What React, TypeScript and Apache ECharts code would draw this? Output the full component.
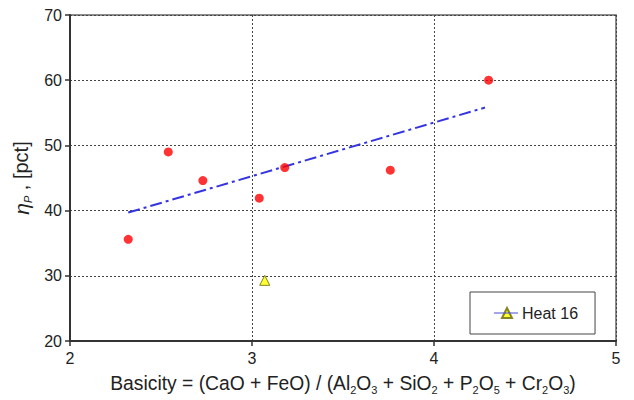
import React, { useEffect, useRef } from "react";
import * as echarts from "echarts";

const basicity = [2.32, 2.54, 2.73, 3.04, 3.18, 3.76, 4.3];
const etaP = [35.6, 49.0, 44.6, 41.9, 46.6, 46.2, 60.0];
const heat16X = [3.07];
const heat16Y = [29.3];
const trendX = [2.32, 4.28];
const trendY = [39.7, 55.8];
const xTicks = [2, 3, 4, 5];
const yTicks = [20, 30, 40, 50, 60, 70];

const FONT = "Liberation Sans, Arial, Helvetica, sans-serif";

export default function App() {
  const ref = useRef<HTMLDivElement>(null);
  useEffect(() => {
    if (!ref.current) return;
    const chart = echarts.init(ref.current, undefined, { renderer: "svg" });
    const gridLine = { show: true, lineStyle: { color: "#444", type: [2, 2] as any, width: 1 } };
    chart.setOption({
      animation: false,
      backgroundColor: "#fff",
      textStyle: { fontFamily: FONT },
      grid: {
        left: 70,
        right: 18,
        top: 15,
        bottom: 57,
        show: true,
        borderColor: "#666",
        borderWidth: 1.5,
        backgroundColor: "transparent",
      },
      xAxis: {
        type: "value",
        min: xTicks[0],
        max: xTicks[xTicks.length - 1],
        interval: 1,
        axisLine: { show: true, onZero: false, lineStyle: { color: "#333", width: 2 } },
        axisTick: { show: true, length: 5, lineStyle: { color: "#333", width: 1.5 } },
        axisLabel: { color: "#222", fontSize: 16, margin: 9, fontFamily: FONT },
        splitLine: gridLine,
        name:
          "Basicity = (CaO + FeO) / (Al{s|2}O{s|3} + SiO{s|2} + P{s|2}O{s|5} + Cr{s|2}O{s|3})",
        nameLocation: "middle",
        nameGap: 30,
        nameTextStyle: {
          color: "#222",
          fontSize: 19.3,
          fontFamily: FONT,
          lineHeight: 24,
          verticalAlign: "top",
          rich: {
            s: { fontSize: 11, lineHeight: 11, verticalAlign: "bottom", color: "#222", fontFamily: FONT },
          },
        },
      },
      yAxis: {
        type: "value",
        min: yTicks[0],
        max: yTicks[yTicks.length - 1],
        interval: 10,
        axisLine: { show: true, onZero: false, lineStyle: { color: "#333", width: 2 } },
        axisTick: { show: true, length: 5, lineStyle: { color: "#333", width: 1.5 } },
        axisLabel: { color: "#222", fontSize: 16, margin: 8, fontFamily: FONT },
        splitLine: gridLine,
        name: "{i|η}{s|P}{n| , [pct]}",
        nameLocation: "middle",
        nameGap: 27,
        nameRotate: 90,
        nameTextStyle: {
          color: "#222",
          fontSize: 19,
          fontFamily: FONT,
          rich: {
            i: { fontStyle: "italic", fontSize: 21, lineHeight: 24, color: "#222", fontFamily: FONT },
            s: { fontStyle: "italic", fontSize: 11, lineHeight: 11, verticalAlign: "bottom", color: "#222", fontFamily: FONT },
            n: { fontSize: 20, lineHeight: 24, color: "#222", fontFamily: FONT },
          },
        },
      },
      legend: {
        data: ["Heat 16"],
        left: 470,
        top: 292,
        orient: "vertical",
        padding: [13, 17, 13, 31],
        itemWidth: 10,
        itemHeight: 10,
        borderColor: "#444",
        borderWidth: 1,
        backgroundColor: "#fff",
        textStyle: { color: "#222", fontSize: 16, fontFamily: FONT, padding: [0, 0, 0, 5] },
      },
      graphic: [
        {
          type: "line",
          shape: { x1: 494, y1: 313, x2: 518, y2: 313 },
          style: { stroke: "#4a4ad8", lineWidth: 1 },
          z: 100,
          zlevel: 0,
        },
      ],
      series: [
        {
          name: "trend",
          type: "line",
          data: trendX.map((x, i) => [x, trendY[i]]),
          symbol: "none",
          lineStyle: { color: "#3535e0", width: 2, type: [12, 4, 3, 4] as any },
          z: 3,
        },
        {
          name: "points",
          type: "scatter",
          data: basicity.map((x, i) => [x, etaP[i]]),
          symbol: "circle",
          symbolSize: 9,
          itemStyle: { color: "#ff0000" },
          z: 4,
        },
        {
          name: "Heat 16",
          type: "scatter",
          data: heat16X.map((x, i) => [x, heat16Y[i]]),
          symbol: "triangle",
          symbolSize: 10,
          itemStyle: { color: "#ffff00", borderColor: "#666600", borderWidth: 1 },
          z: 4,
        },
      ],
    });
    return () => chart.dispose();
  }, []);
  return <div ref={ref} style={{ width: 634, height: 400, position: "absolute", left: 0, top: 0 }} />;
}
